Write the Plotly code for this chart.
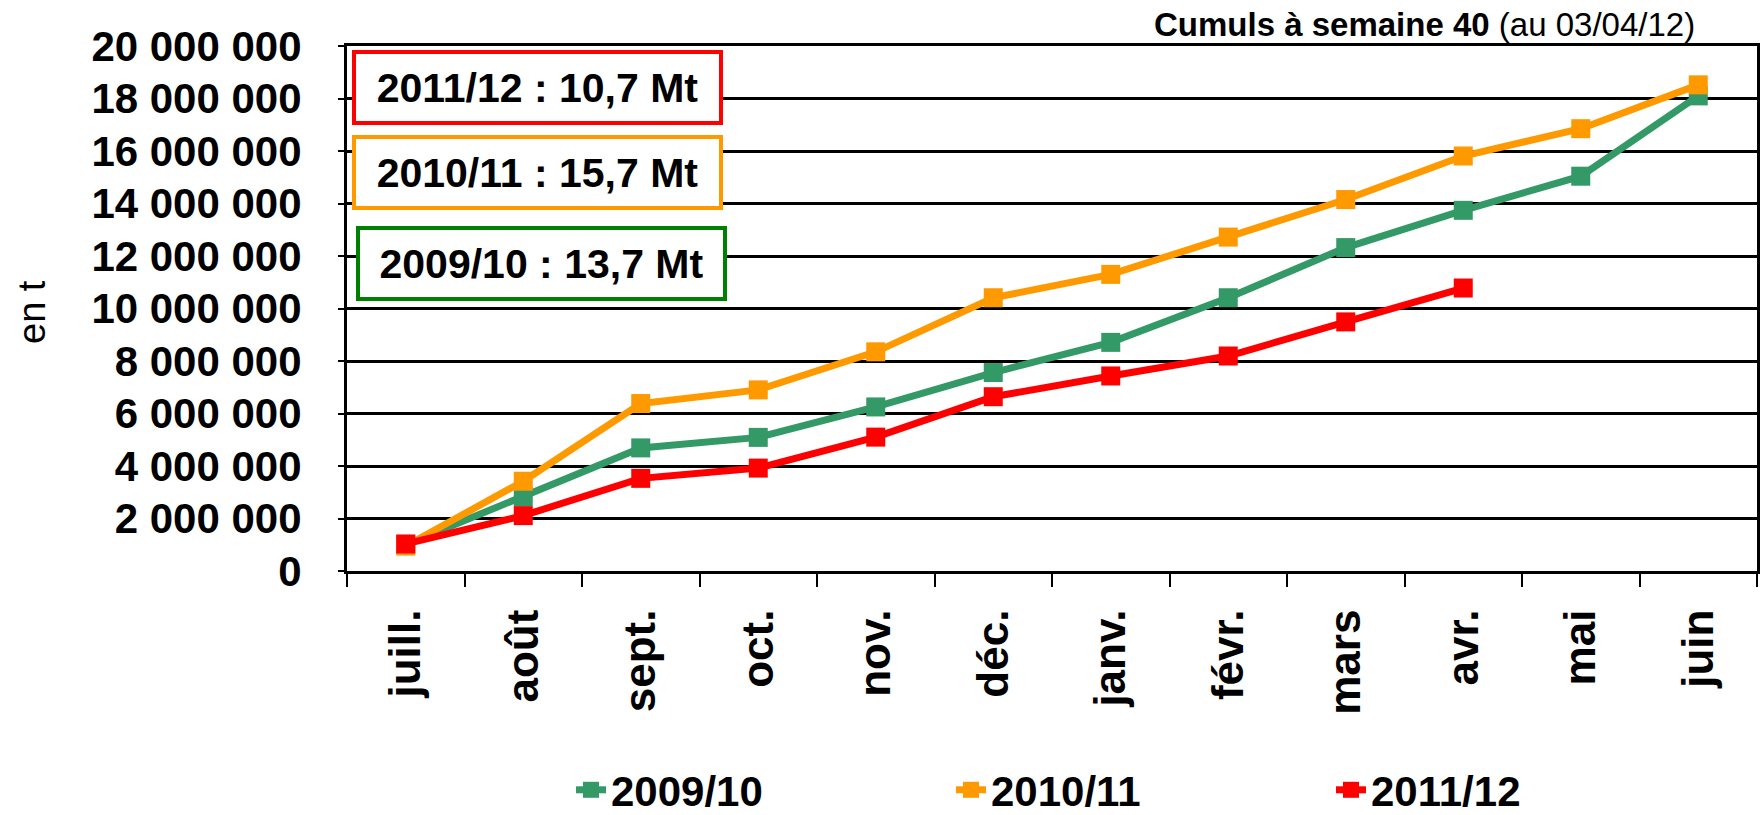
import plotly.graph_objects as go

months = ["juill.", "août", "sept.", "oct.", "nov.", "déc.", "janv.", "févr.", "mars", "avr.", "mai", "juin"]
s2009_10 = [1000000, 2830000, 4690000, 5090000, 6250000, 7560000, 8710000, 10410000, 12320000, 13740000, 15040000, 18100000]
s2010_11 = [950000, 3420000, 6380000, 6900000, 8350000, 10410000, 11300000, 12720000, 14150000, 15810000, 16850000, 18520000]
s2011_12 = [1030000, 2110000, 3530000, 3920000, 5100000, 6640000, 7430000, 8190000, 9490000, 10780000]

series_names = ["2009/10", "2010/11", "2011/12"]
series_colors = ["#339966", "#FF9900", "#FF0000"]
box_texts = ["2011/12 : 10,7 Mt", "2010/11 : 15,7 Mt", "2009/10 : 13,7 Mt"]
box_colors = ["#FF0000", "#FF9900", "#008000"]

FONT = "Arial, Liberation Sans, sans-serif"

fig = go.Figure()
for name, vals, col in zip(series_names, [s2009_10, s2010_11, s2011_12], series_colors):
    fig.add_trace(go.Scatter(
        x=months[:len(vals)], y=vals, name=name, mode="lines+markers",
        line=dict(color=col, width=7),
        marker=dict(symbol="square", size=19, color=col),
    ))

W, H = 1760, 815
L, R, T, B = 347, 3, 46, 244
pw = W - L - R
ph = H - T - B

def px_x(x):
    return (x - L) / pw

def px_y(y):
    return (H - B - y) / ph

# info boxes
box_centers = [(537, 87), (537, 172), (541, 263)]
for txt, col, (cx, cy) in zip(box_texts, box_colors, box_centers):
    fig.add_annotation(
        x=px_x(cx), y=px_y(cy), xref="paper", yref="paper",
        xanchor="center", yanchor="middle", showarrow=False,
        text="<b>" + txt + "</b>", font=dict(family=FONT, size=41, color="black"),
        bgcolor="white", bordercolor=col, borderwidth=4, borderpad=0,
        width=363, height=67, align="center",
    )

fig.add_annotation(
    x=px_x(1697), y=px_y(24), xref="paper", yref="paper",
    xanchor="right", yanchor="middle", showarrow=False,
    text="<b>Cumuls à semaine 40</b> (au 03/04/12)",
    font=dict(family=FONT, size=33, color="black"),
)

fig.add_annotation(
    x=px_x(32), y=px_y(312), xref="paper", yref="paper",
    xanchor="center", yanchor="middle", showarrow=False, textangle=-90,
    text="en t", font=dict(family=FONT, size=38, color="black"),
)

fig.update_layout(
    width=W, height=H,
    margin=dict(l=L, r=R, t=T, b=B, autoexpand=False),
    paper_bgcolor="white", plot_bgcolor="white",
    separators=", ",
    font=dict(family=FONT, color="black"),
    showlegend=True,
    legend=dict(
        orientation="h", xanchor="center", yanchor="middle",
        x=px_x(1141), y=px_y(790),
        font=dict(family=FONT, size=42, color="black", weight="bold"),
        entrywidth=335, entrywidthmode="pixels",
        bgcolor="rgba(0,0,0,0)",
    ),
    xaxis=dict(
        type="category", categoryorder="array", categoryarray=months,
        range=[-0.5, len(months) - 0.5],
        showline=True, linecolor="black", linewidth=3, mirror=True,
        showgrid=False, ticks="outside", tickson="boundaries",
        ticklen=13, tickwidth=2, tickcolor="black",
        tickangle=-90, ticklabelstandoff=18,
        tickfont=dict(family=FONT, size=44, color="black", weight="bold"),
        zeroline=False,
    ),
    yaxis=dict(
        range=[0, 20000000], dtick=2000000, tick0=0, tickformat=",d",
        showline=True, linecolor="black", linewidth=3, mirror=True,
        showgrid=True, gridcolor="black", gridwidth=3,
        ticks="outside", ticklen=6, tickwidth=2, tickcolor="black",
        ticklabelstandoff=28,
        tickfont=dict(family=FONT, size=42, color="black", weight="bold"),
        zeroline=False,
    ),
)

fig.write_html(
    "out.html",
    config={"displayModeBar": False},
    post_script="document.body.style.margin='0';document.body.style.overflow='hidden';",
)
